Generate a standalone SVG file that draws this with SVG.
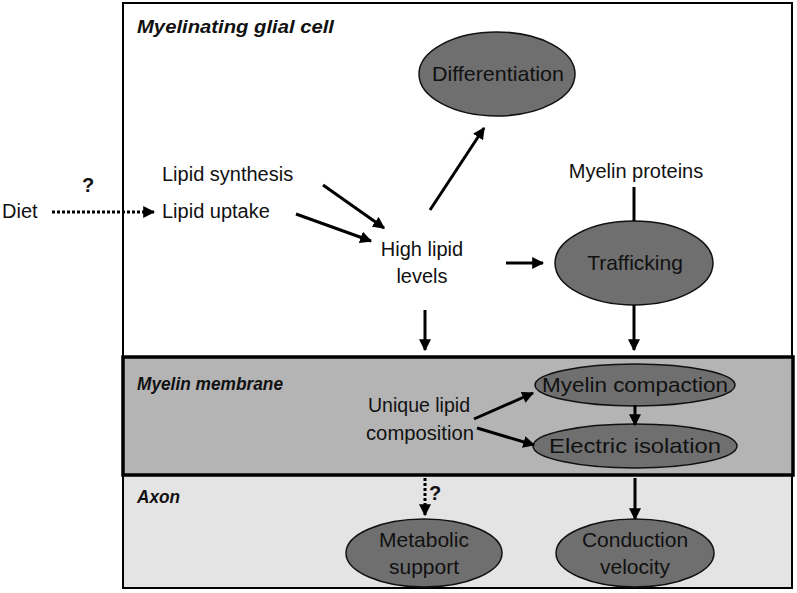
<svg xmlns="http://www.w3.org/2000/svg" width="797" height="593" viewBox="0 0 797 593">
<style>
text{font-family:"Liberation Sans",Arial,sans-serif;font-size:20px;fill:#111}
.t{text-anchor:middle}
.n{font-size:21px}
.h{font-weight:bold;font-style:italic;font-size:17px}
.q{font-weight:bold;font-size:20px}
.e{fill:#6f6f6f;stroke:#111;stroke-width:1.5}
.c{stroke:#000;stroke-width:3;fill:none}
.d{stroke:#000;stroke-width:3;fill:none;stroke-dasharray:3 2}
</style>
<defs>
<marker id="a" viewBox="0 0 10 10" refX="9" refY="5" markerWidth="4" markerHeight="4" orient="auto" markerUnits="strokeWidth">
<path d="M0,0 L10,5 L0,10 z" fill="#000"/>
</marker>
</defs>
<rect x="0" y="0" width="797" height="593" fill="#fff"/>
<g id="glial-cell">
<rect x="123" y="3" width="669" height="585" fill="#fff" stroke="#000" stroke-width="2"/>
<text class="h" x="137" y="33" textLength="197" lengthAdjust="spacingAndGlyphs" style="font-size:18px">Myelinating glial cell</text>
</g>
<g id="axon">
<rect x="123" y="475" width="669" height="113" fill="#e4e4e4" stroke="#000" stroke-width="2"/>
<text class="h" x="137" y="503" style="font-size:18px" textLength="43" lengthAdjust="spacingAndGlyphs">Axon</text>
</g>
<g id="myelin-membrane">
<rect x="123" y="357" width="670" height="118" fill="#b4b4b4" stroke="#000" stroke-width="3.5"/>
<text class="h" x="137" y="390" style="font-size:18px" textLength="146" lengthAdjust="spacingAndGlyphs">Myelin membrane</text>
</g>
<g id="diet"><text x="2" y="218">Diet</text></g>
<g id="lipid-synthesis"><text x="162" y="181">Lipid synthesis</text></g>
<g id="lipid-uptake"><text x="162" y="218">Lipid uptake</text></g>
<g id="high-lipid"><text class="t" x="422" y="256">High lipid</text><text class="t" x="422" y="283">levels</text></g>
<g id="differentiation"><ellipse class="e" cx="497" cy="74" rx="78" ry="42"/><text class="t n" x="498" y="81" textLength="132" lengthAdjust="spacingAndGlyphs">Differentiation</text></g>
<g id="myelin-proteins"><text class="t" x="636" y="178">Myelin proteins</text></g>
<g id="trafficking"><ellipse class="e" cx="634" cy="263" rx="79" ry="42"/><text class="t n" x="635" y="270">Trafficking</text></g>
<g id="unique-lipid"><text class="t" x="419" y="412" textLength="102" lengthAdjust="spacingAndGlyphs">Unique lipid</text><text class="t" x="420" y="440" textLength="108" lengthAdjust="spacingAndGlyphs">composition</text></g>
<g id="myelin-compaction"><ellipse class="e" cx="635" cy="385" rx="100" ry="21"/><text class="t n" x="635" y="392" textLength="186" lengthAdjust="spacingAndGlyphs">Myelin compaction</text></g>
<g id="electric-isolation"><ellipse class="e" cx="635" cy="446" rx="102" ry="22"/><text class="t n" x="635" y="453" textLength="172" lengthAdjust="spacingAndGlyphs">Electric isolation</text></g>
<g id="metabolic-support"><ellipse class="e" cx="424" cy="553" rx="78" ry="34"/><text class="t n" x="424" y="547">Metabolic</text><text class="t n" x="424" y="574">support</text></g>
<g id="conduction-velocity"><ellipse class="e" cx="635" cy="553" rx="79" ry="34"/><text class="t n" x="635" y="547">Conduction</text><text class="t n" x="635" y="574">velocity</text></g>
<g id="connectors">
<line class="d" x1="52" y1="212" x2="154" y2="212" marker-end="url(#a)"/>
<text class="q" x="82" y="192">?</text>
<line class="c" x1="323" y1="185" x2="384" y2="228" marker-end="url(#a)"/>
<line class="c" x1="296" y1="214" x2="371" y2="241" marker-end="url(#a)"/>
<line class="c" x1="430" y1="210" x2="484" y2="128" marker-end="url(#a)"/>
<line class="c" x1="506" y1="263" x2="543" y2="263" marker-end="url(#a)"/>
<line class="c" x1="425" y1="310" x2="425" y2="350" marker-end="url(#a)"/>
<line class="c" x1="634" y1="187" x2="634" y2="221"/>
<line class="c" x1="634" y1="305" x2="634" y2="350" marker-end="url(#a)"/>
<line class="c" x1="474" y1="419" x2="533" y2="393" marker-end="url(#a)"/>
<line class="c" x1="477" y1="428" x2="534" y2="445" marker-end="url(#a)"/>
<line class="c" x1="635" y1="405" x2="635" y2="425" stroke-width="2" marker-end="url(#a)"/>
<line class="d" x1="425" y1="478" x2="425" y2="515" marker-end="url(#a)"/>
<text class="q" x="429" y="500">?</text>
<line class="c" x1="635" y1="478" x2="635" y2="519" marker-end="url(#a)"/>
</g>
</svg>
